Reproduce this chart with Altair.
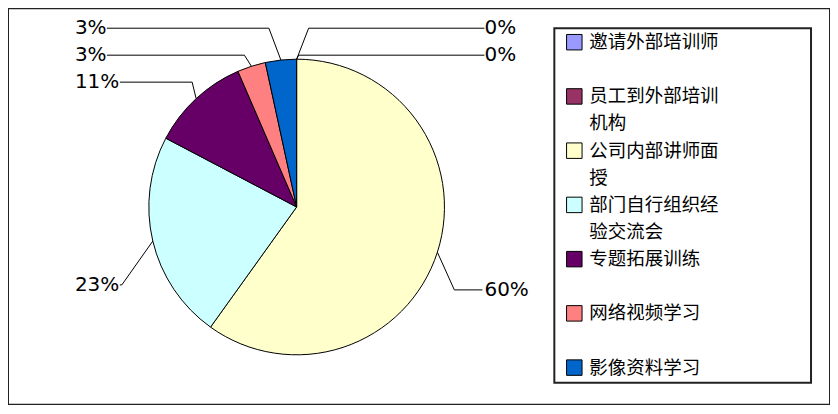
import altair as alt
import pandas as pd

# ---- data ----
categories = ["邀请外部培训师", "员工到外部培训机构", "公司内部讲师面授",
              "部门自行组织经验交流会", "专题拓展训练", "网络视频学习", "影像资料学习"]
values = [0, 0, 59.9, 22.8, 10.8, 3.1, 3.4]
pct_labels = ["0%", "0%", "60%", "23%", "11%", "3%", "3%"]
colors = ["#9999FF", "#993366", "#FFFFCC", "#CCFFFF", "#660066", "#FF8080", "#0066CC"]

# ---- layout (chart pixel space; page margin is 8px) ----
OFF = 8
W, H = 823, 397
CX, CY, R = 297 - OFF, 207 - OFF, 148
label_x = [485, 485, 485, 75, 75, 75, 75]
label_y = [28, 55, 290, 285, 82, 55, 28]
elbow_dx = [12, 2, 17, -31, -4, -7, -12]
link_x = [485, 485, 483, 120, 120, 107, 107]
LEG_BOX = (555, 28, 812, 383)
LEG_Y0, LEG_STEP = 42, 54.3
SW_X, TXT_X = 575, 590
FONT_CJK = "Noto Sans CJK SC"
FONT_NUM = "DejaVu Sans"
LEG_FS, LEG_LH = 18.5, 27
WRAP = 7

df = pd.DataFrame({
    "idx": list(range(len(categories))),
    "cat": categories,
    "value": values,
    "pct": pct_labels,
    "lx": [v - OFF for v in label_x],
    "ly": [v - OFF for v in label_y],
    "edx": elbow_dx,
    "linkx": [v - OFF for v in link_x],
})

base = alt.Chart(df).transform_joinaggregate(
    total="sum(value)"
).transform_window(
    cum="sum(value)", sort=[alt.SortField("idx")], frame=[None, 0]
).transform_calculate(
    mid="(datum.cum - datum.value / 2) / datum.total * 2 * PI",
    ax=f"{CX} + {R} * sin(datum.mid)",
    ay=f"{CY} - {R} * cos(datum.mid)",
    ex="datum.ax + datum.edx",
    ey="datum.ly",
    legy=f"{LEG_Y0 - OFF} + datum.idx * {LEG_STEP}",
    legy2=f"{LEG_Y0 - OFF + LEG_LH} + datum.idx * {LEG_STEP}",
    line1=f"substring(datum.cat, 0, {WRAP})",
    line2=f"substring(datum.cat, {WRAP})",
)

color = alt.Color("cat:N", scale=alt.Scale(domain=categories, range=colors), legend=None)

pie = alt.Chart(df).mark_arc(radius=R, stroke="black", strokeWidth=1).encode(
    theta=alt.Theta("value:Q", stack=True),
    color=color,
    order=alt.Order("idx:Q"),
    x=alt.value(CX),
    y=alt.value(CY),
)

seg1 = base.mark_rule(color="black", strokeWidth=1).encode(
    x=alt.X("ax:Q", scale=None), y=alt.Y("ay:Q", scale=None),
    x2="ex:Q", y2="ey:Q",
)
seg2 = base.mark_rule(color="black", strokeWidth=1).encode(
    x=alt.X("ex:Q", scale=None), y=alt.Y("ey:Q", scale=None),
    x2="linkx:Q",
)
pct_text = base.mark_text(align="left", baseline="middle", font=FONT_NUM,
                          fontSize=20, color="black").encode(
    x=alt.X("lx:Q", scale=None), y=alt.Y("ly:Q", scale=None), text="pct:N",
)

leg_box = alt.Chart(pd.DataFrame({"a": [0]})).mark_rect(
    fill="white", stroke="#222", strokeWidth=2
).encode(
    x=alt.value(LEG_BOX[0] - OFF), x2=alt.value(LEG_BOX[2] - OFF),
    y=alt.value(LEG_BOX[1] - OFF), y2=alt.value(LEG_BOX[3] - OFF),
)
leg_sw = base.mark_square(size=240, opacity=1, stroke="black", strokeWidth=1).encode(
    x=alt.value(SW_X - OFF), y=alt.Y("legy:Q", scale=None), color=color,
)
leg_txt1 = base.mark_text(align="left", baseline="middle", font=FONT_CJK, fontSize=LEG_FS,
                          color="black").encode(
    x=alt.value(TXT_X - OFF), y=alt.Y("legy:Q", scale=None), text="line1:N",
)
leg_txt2 = base.transform_filter(f"length(datum.cat) > {WRAP}").mark_text(
    align="left", baseline="middle", font=FONT_CJK, fontSize=LEG_FS, color="black"
).encode(
    x=alt.value(TXT_X - OFF), y=alt.Y("legy2:Q", scale=None), text="line2:N",
)

chart = alt.layer(pie, seg1, seg2, pct_text, leg_box, leg_sw, leg_txt1, leg_txt2).properties(
    width=W, height=H, padding=0, autosize=alt.AutoSizeParams(type="none"),
    background="white",
).configure_view(stroke="#222", strokeWidth=2)

chart.save("out.html", embed_options={"renderer": "svg", "actions": False})
